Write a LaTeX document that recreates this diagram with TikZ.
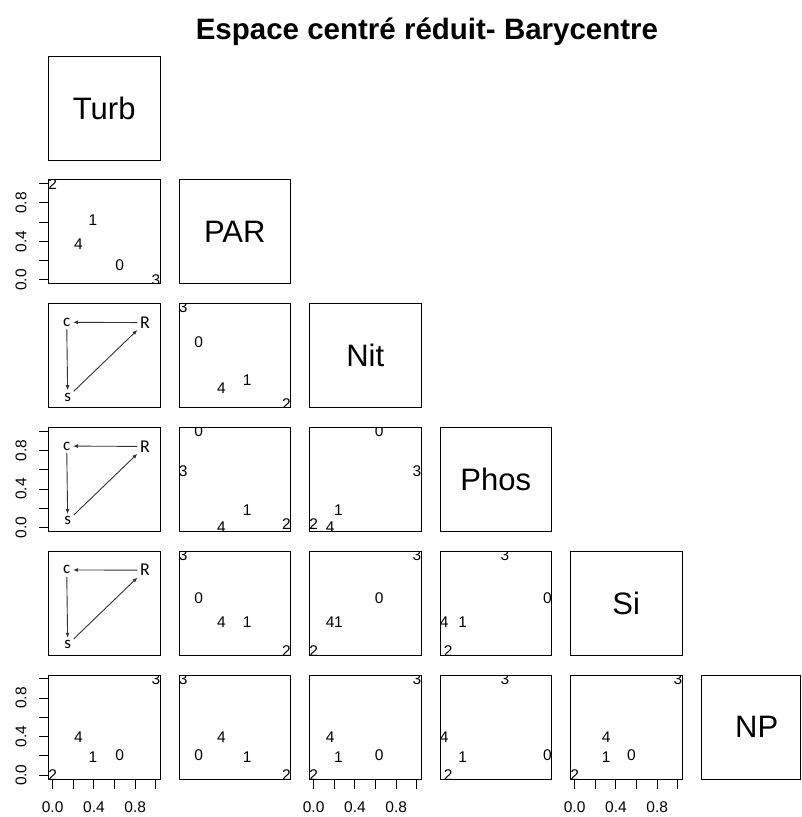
\documentclass[tikz,border=0pt]{standalone}
\usepackage{fontspec}
\setmainfont{Liberation Sans}
\newfontfamily\calib{Carlito}
\usetikzlibrary{arrows.meta}

\begin{document}
\begin{tikzpicture}[x=1pt,y=-1pt]
\tikzset{panel/.style={draw, line width=1pt}}
\tikzset{pt/.style={font=\fontsize{15.5}{15.5}\selectfont, inner sep=0pt}}
\tikzset{varname/.style={font=\fontsize{31}{31}\selectfont, inner sep=0pt}}
\tikzset{ticklab/.style={font=\fontsize{15.5}{15.5}\selectfont, inner sep=0pt}}
\tikzset{graph/.style={font=\calib\fontsize{17}{17}\selectfont, inner sep=2.5pt}}
\tikzset{pointer/.style={-{Latex[length=5pt,width=4pt]}, draw=black!80, line width=0.9pt}}

\useasboundingbox (0,0) rectangle (802,817);
\def\dat{{0.65,0.39,0,1,0.25,0.15,0.62,1,0,0.37,0.635,0.24,0,1,0.16,1,0.18,0.04,0.59,0,0.55,0.305,0,1,0.305,0.21,0.185,0,1,0.39}}

\node[font=\bfseries\fontsize{29.5}{29.5}\selectfont, anchor=base] (title) at (427,39) {Espace centré réduit- Barycentre};

\foreach \v [count=\i] in {Turb,PAR,Nit,Phos,Si,NP} {
  \pgfmathsetmacro\L{48.5+(\i-1)*130.5}
  \pgfmathsetmacro\T{56+(\i-1)*123.8}
  \pgfmathsetmacro\R{min(\L+111.5,800)}
  \draw[panel] (\L,\T) rectangle (\R,\T+104);
  \node[varname] (\v) at (\L+55.75,\T+52) {\v};
}

\foreach \i in {2,...,6} {
  \pgfmathtruncatemacro\jmax{\i-1}
  \foreach \j in {1,...,\jmax} {
    \pgfmathsetmacro\L{48.5+(\j-1)*130.5}
    \pgfmathsetmacro\T{56+(\i-1)*123.8}
    \draw[panel] (\L,\T) rectangle (\L+111.5,\T+104);
    \pgfmathtruncatemacro\nopts{(\j==1)&&(\i>2)&&(\i<6)}
    \ifnum\nopts=0
    \begin{scope}
      \clip (\L,\T) rectangle (\L+111.5,\T+104);
      \foreach \k in {0,...,4} {
        \pgfmathsetmacro\px{\L+4.13+103.2*\dat[(\j-1)*5+\k]}
        \pgfmathsetmacro\py{\T+100.15-96.3*\dat[(\i-1)*5+\k]}
        \node[pt] (p\i\j\k) at (\px,\py) {\k};
      }
    \end{scope}
    \fi
  }
}

\foreach \i in {3,4,5} {
  \pgfmathsetmacro\T{56+(\i-1)*123.8}
  \node[graph] (c\i) at (66.7,\T+18.7) {c};
  \node[graph, font=\calib\fontsize{18}{18}\selectfont] (r\i) at (145,\T+19) {R};
  \node[graph] (s\i) at (67.7,\T+93.5) {s};
  \draw[pointer] (r\i) -- (c\i);
  \draw[pointer] (c\i) -- (s\i);
  \draw[pointer] (s\i) -- (r\i);
}

\foreach \i in {2,4,6} {
  \pgfmathsetmacro\B{56+(\i-1)*123.8+100.15}
  \draw[line width=1pt] (48.5,\B) -- (48.5,\B-96.3);
  \foreach \t in {0,...,5}
    \draw[line width=1pt] (48.5,\B-19.26*\t) -- (38.5,\B-19.26*\t);
  \foreach \t/\s in {0/0.0,2/0.4,4/0.8}
    \node[ticklab, rotate=90] (ylab\i\t) at (21,\B-19.26*\t) {\s};
}

\foreach \j in {1,3,5} {
  \pgfmathsetmacro\X{48.5+(\j-1)*130.5+4.13}
  \draw[line width=1pt] (\X,779) -- (\X+103.2,779);
  \foreach \t in {0,...,5}
    \draw[line width=1pt] (\X+20.64*\t,779) -- (\X+20.64*\t,789);
  \foreach \t/\s in {0/0.0,2/0.4,4/0.8}
    \node[ticklab] (xlab\j\t) at (\X+20.64*\t,807) {\s};
}
\end{tikzpicture}
\end{document}
